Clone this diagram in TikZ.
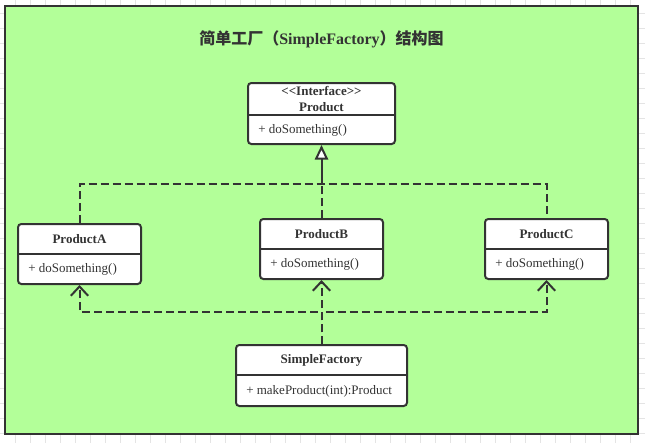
\documentclass[tikz,border=0pt]{standalone}
\usepackage{fontspec}
\setmainfont{Liberation Serif}
\newfontfamily\cjk{Noto Sans CJK SC}
\usetikzlibrary{arrows.meta}
\definecolor{ink}{HTML}{333333}
\definecolor{canvas}{HTML}{B3FF99}
\definecolor{gridgray}{HTML}{E4E4E4}

\begin{document}
\begin{tikzpicture}[x=0.75pt, y=-0.75pt,
  box/.style={draw=ink, fill=white, line width=1.5pt, rounded corners=2.5pt, inner sep=0pt},
  cname/.style={font=\bfseries\fontsize{9.75}{12}\selectfont, text=ink, inner sep=0pt},
  cmeth/.style={font=\fontsize{9.75}{12}\selectfont, text=ink, anchor=west, inner sep=0pt},
  rail/.style={draw=ink, line width=1.5pt, dash pattern=on 6pt off 3pt},
  realize/.style={draw=ink, line width=1.5pt, -{Triangle[open, fill=white, length=11pt, width=10pt]}},
  depend/.style={rail, -{Straight Barb[length=7pt, width=13pt]}}]

% --- canvas ---
\useasboundingbox (0,0) rectangle (645,443);
\fill[white] (0,0) rectangle (645,443);
\foreach \gx in {15,30,...,630}
  \draw[gridgray, line width=0.75pt] (\gx,0) -- (\gx,443);
\foreach \gy in {13,28,...,433}
  \draw[gridgray, line width=0.75pt] (0,\gy) -- (645,\gy);
\draw[ink, line width=1.5pt, fill=canvas] (5,6) rectangle (638,434);

\node[font=\fontsize{12}{14}\selectfont\bfseries, text=ink] (title) at (321.5,39)
  {{\cjk 简单工厂（}SimpleFactory{\cjk ）结构图}};

% --- interface ---
\node[box, minimum width=110.25pt, minimum height=45.75pt] (product) at (321.5,113.5) {};
\node[cname, align=center] (productT) at (321.5,99) {{<}{<}Interface{>}{>}\\Product};
\draw[ink, line width=1.5pt] (product.west |- 0,115) -- (product.east |- 0,115);
\node[cmeth] (productM) at (258,130) {+ doSomething()};

% --- concrete products ---
\node[box, minimum width=92.25pt, minimum height=45pt] (productA) at (79.5,254) {};
\node[cname] (productAT) at (79.5,239) {ProductA};
\draw[ink, line width=1.5pt] (productA.west |- 0,254) -- (productA.east |- 0,254);
\node[cmeth] (productAM) at (28,269.5) {+ doSomething()};

\node[box, minimum width=92.25pt, minimum height=45pt] (productB) at (321.5,249) {};
\node[cname] (productBT) at (321.5,234) {ProductB};
\draw[ink, line width=1.5pt] (productB.west |- 0,249) -- (productB.east |- 0,249);
\node[cmeth] (productBM) at (270,264.5) {+ doSomething()};

\node[box, minimum width=92.25pt, minimum height=45pt] (productC) at (546.5,249) {};
\node[cname] (productCT) at (546.5,234) {ProductC};
\draw[ink, line width=1.5pt] (productC.west |- 0,249) -- (productC.east |- 0,249);
\node[cmeth] (productCM) at (495,264.5) {+ doSomething()};

% --- factory ---
\node[box, minimum width=128.25pt, minimum height=45.75pt] (factory) at (321.5,375.5) {};
\node[cname] (factoryT) at (321.5,360) {SimpleFactory};
\draw[ink, line width=1.5pt] (factory.west |- 0,375) -- (factory.east |- 0,375);
\node[cmeth] (factoryM) at (246,391.5) {+ makeProduct(int):Product};

% --- realization ---
\coordinate (upRail) at (0,184);
\draw[rail] (productA.north) |- (upRail -| productC.north) -- (productC.north);
\draw[rail] (productB.north) -- (productB.north |- upRail);
\draw[realize] (productB.north |- upRail) -- (product.south);

% --- dependency ---
\coordinate (downRail) at (0,312);
\draw[depend] (factory.north) |- (downRail -| productA.south) -- (productA.south);
\draw[depend] (factory.north) |- (downRail -| productC.south) -- (productC.south);
\draw[depend] (factory.north) -- (productB.south);

\end{tikzpicture}
\end{document}
